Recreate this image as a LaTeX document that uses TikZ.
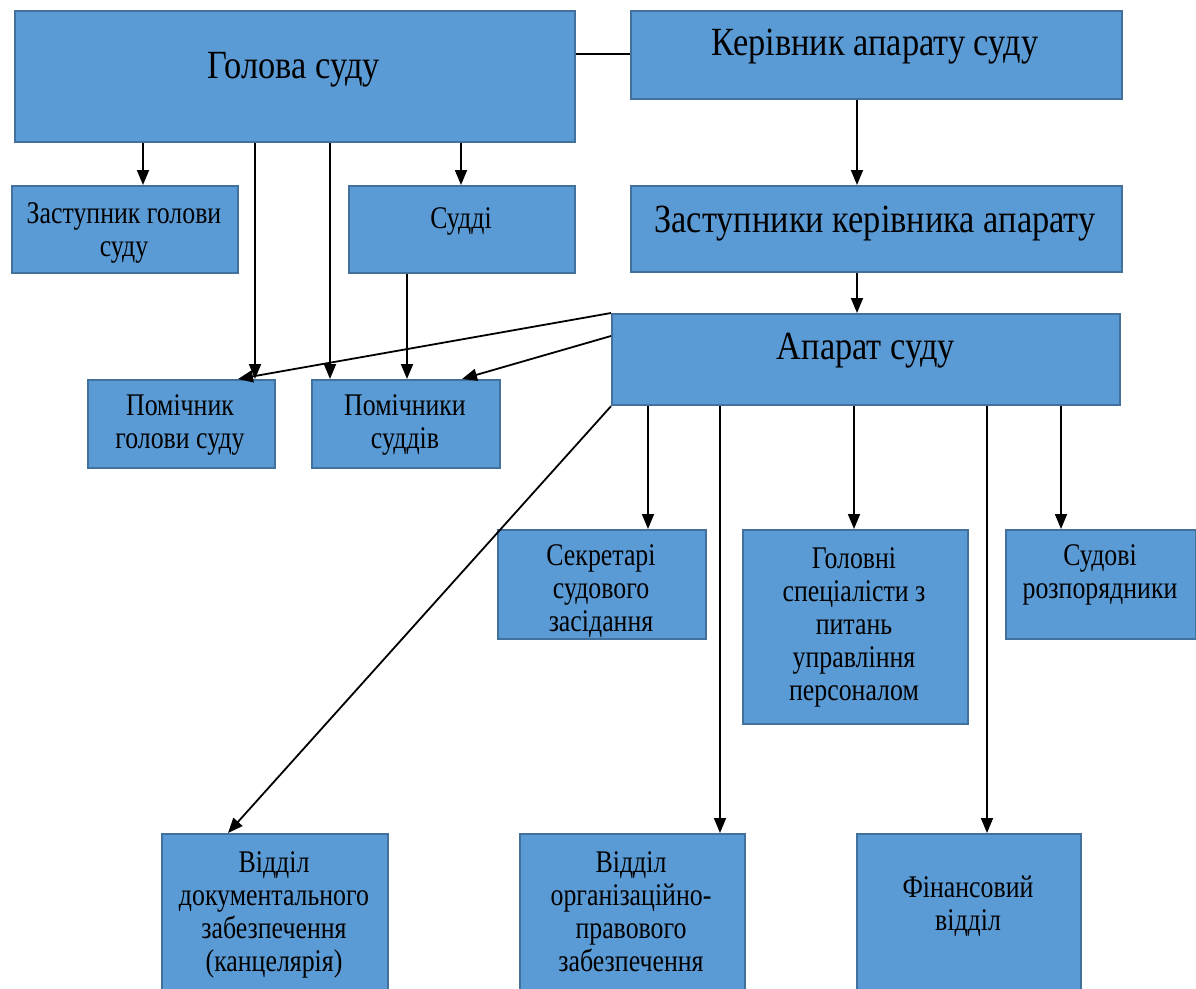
\documentclass[tikz,border=0pt]{standalone}
\usepackage{fontspec}
\setmainfont{Liberation Serif}[FakeStretch=0.86]
\newfontfamily\narrowserif{Liberation Serif}[FakeStretch=0.82]
\usetikzlibrary{arrows.meta}
\definecolor{boxfill}{HTML}{5B9BD5}
\definecolor{boxedge}{HTML}{41719C}
\tikzset{
  box/.style={draw=boxedge, fill=boxfill, line width=2.2pt, rectangle, inner sep=0pt, anchor=north west},
  bigtxt/.style={font=\fontsize{40}{44}\selectfont, inner sep=0pt, anchor=base},
  smalltxt/.style={font=\narrowserif\fontsize{31.5}{33}\selectfont, inner sep=0pt, anchor=north, align=center},
  arr/.style={-{Triangle[length=15pt,width=12pt]}, line width=1.8pt},
  plainln/.style={line width=1.2pt}
}
\begin{document}
\begin{tikzpicture}[x=1pt,y=-1pt]
\path[use as bounding box, clip] (0,0) rectangle (1196,988);
\fill[white] (0,0) rectangle (1196,988);
% boxes
\node[box, minimum width=560pt, minimum height=131pt] (golova) at (14,10) {};
\node[box, minimum width=491pt, minimum height=88pt] (kerivnyk) at (630,10) {};
\node[box, minimum width=491pt, minimum height=86pt] (zastk) at (630,185) {};
\node[box, minimum width=508pt, minimum height=91pt] (aparat) at (611,313) {};
\node[box, minimum width=226pt, minimum height=87pt] (zg) at (11,185) {};
\node[box, minimum width=226pt, minimum height=87pt] (suddi) at (348,185) {};
\node[box, minimum width=187pt, minimum height=88pt] (pg) at (87,379) {};
\node[box, minimum width=188pt, minimum height=88pt] (ps) at (311,379) {};
\node[box, minimum width=208pt, minimum height=109pt] (sekr) at (497,529) {};
\node[box, minimum width=225pt, minimum height=194pt] (golovni) at (742,529) {};
\node[box, minimum width=190pt, minimum height=109pt] (sudovi) at (1005,529) {};
\node[box, minimum width=226pt, minimum height=170pt] (vdok) at (161,833) {};
\node[box, minimum width=225pt, minimum height=170pt] (vorg) at (519,833) {};
\node[box, minimum width=224pt, minimum height=170pt] (fin) at (856,833) {};
% texts
\node[bigtxt] (t-golova) at (294,78) {Голова суду};
\node[bigtxt] (t-kerivnyk) at (875,55) {Керівник апарату суду};
\node[bigtxt] (t-zastk) at (875,232) {Заступники керівника апарату};
\node[bigtxt] (t-aparat) at (866,359) {Апарат суду};
\node[smalltxt] (t-zg) at (124,200) {\strut Заступник голови\\суду};
\node[smalltxt] (t-suddi) at (461,205) {\strut Судді};
\node[smalltxt] (t-pg) at (180,392) {\strut Помічник\\голови суду};
\node[smalltxt] (t-ps) at (405,392) {\strut Помічники\\суддів};
\node[smalltxt] (t-sekr) at (601,542) {\strut Секретарі\\судового\\засідання};
\node[smalltxt] (t-golovni) at (854,545) {\strut Головні\\спеціалісти з\\питань\\управління\\персоналом};
\node[smalltxt] (t-sudovi) at (1100,542) {\strut Судові\\розпорядники};
\node[smalltxt] (t-vdok) at (274,849) {\strut Відділ\\документального\\забезпечення\\(канцелярія)};
\node[smalltxt] (t-vorg) at (631,849) {\strut Відділ\\організаційно-\\правового\\забезпечення};
\node[smalltxt] (t-fin) at (968,874) {\strut Фінансовий\\відділ};
% connectors
\draw[plainln] (golova.east |- 0,54) -- (kerivnyk.west |- 0,54);
\draw[arr] (golova.south -| 143,0) -- (zg.north -| 143,0);
\draw[arr] (golova.south -| 461,0) -- (suddi.north -| 461,0);
\draw[arr] (golova.south -| 255,0) -- (pg.north -| 255,0);
\draw[arr] (golova.south -| 330,0) -- (ps.north -| 330,0);
\draw[arr] (suddi.south -| 407,0) -- (ps.north -| 407,0);
\draw[arr] (kerivnyk.south -| 857,0) -- (zastk.north -| 857,0);
\draw[arr] (zastk.south -| 857,0) -- (aparat.north -| 857,0);
\draw[arr] (aparat.north west) -- (pg.north -| 238,0);
\draw[arr] (aparat.west |- 0,336) -- (ps.north -| 462,0);
\draw[arr] (aparat.south west) -- (vdok.north -| 228,0);
\draw[arr] (aparat.south -| 648,0) -- (sekr.north -| 648,0);
\draw[arr] (aparat.south -| 720,0) -- (vorg.north -| 720,0);
\draw[arr] (aparat.south -| 854,0) -- (golovni.north -| 854,0);
\draw[arr] (aparat.south -| 987,0) -- (fin.north -| 987,0);
\draw[arr] (aparat.south -| 1061,0) -- (sudovi.north -| 1061,0);
\end{tikzpicture}
\end{document}
